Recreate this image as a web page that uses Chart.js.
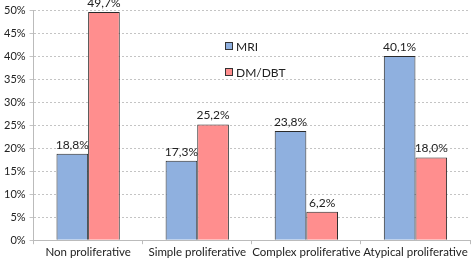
<!DOCTYPE html>
<html>
<head>
<meta charset="utf-8">
<script src="https://cdn.jsdelivr.net/npm/chart.js@4"></script>
<style>
  html, body { margin: 0; padding: 0; background: #fff; }
  #wrap { width: 473px; height: 260px; }
</style>
</head>
<body>
<div id="wrap"><canvas id="bars"></canvas></div>
<script>
Chart.defaults.font.family = 'Lato, "Open Sans", sans-serif';
Chart.defaults.font.size = 11;
Chart.defaults.color = '#222';

// data
const categories = ['Non proliferative', 'Simple proliferative', 'Complex proliferative', 'Atypical proliferative'];
const mriValues = [18.8, 17.3, 23.8, 40.1];
const dmValues = [49.7, 25.2, 6.2, 18.0];
const seriesNames = ['MRI', 'DM/DBT'];

const fmt = v => v.toFixed(1).replace('.', ',') + '%';

// value labels above bars
const valueLabels = {
    id: 'valueLabels',
    afterDatasetsDraw(chart) {
        const ctx = chart.ctx;
        ctx.save();
        ctx.font = '12px Lato, "Open Sans", sans-serif';
        ctx.fillStyle = '#222';
        ctx.textAlign = 'center';
        ctx.textBaseline = 'bottom';
        chart.data.datasets.forEach((ds, i) => {
            chart.getDatasetMeta(i).data.forEach((bar, j) => {
                ctx.fillText(fmt(ds.data[j]), bar.x, bar.y - 3);
            });
        });
        ctx.restore();
    }
};

// legend drawn inside the plot
const innerLegend = {
    id: 'innerLegend',
    afterDraw(chart) {
        const ctx = chart.ctx;
        ctx.save();
        ctx.font = '12px Lato, "Open Sans", sans-serif';
        ctx.textBaseline = 'middle';
        chart.data.datasets.forEach((ds, i) => {
            const x = 225, y = 46 + i * 26;
            ctx.fillStyle = ds.backgroundColor;
            ctx.fillRect(x, y - 4, 8, 8);
            ctx.strokeStyle = '#333';
            ctx.lineWidth = 1;
            ctx.strokeRect(x + 0.5, y - 3.5, 7, 7);
            ctx.fillStyle = '#222';
            ctx.fillText(ds.label, x + 11, y + 1);
        });
        ctx.restore();
    }
};

const data = {
    labels: categories,
    datasets: [
        {
            label: seriesNames[0],
            data: mriValues,
            backgroundColor: '#8fb0df',
            borderColor: '#2a2a2a',
            borderWidth: 1
        },
        {
            label: seriesNames[1],
            data: dmValues,
            backgroundColor: '#ff8e8e',
            borderColor: '#2a2a2a',
            borderWidth: 1
        }
    ]
};

const options = {
    responsive: true,
    maintainAspectRatio: false,
    animation: false,
    layout: { padding: { top: 10, right: 3, left: 0, bottom: 0 } },
    datasets: {
        bar: { barPercentage: 1.0, categoryPercentage: 0.58 }
    },
    plugins: {
        legend: { display: false },
        tooltip: { enabled: false }
    },
    scales: {
        x: {
            grid: {
                offset: true,
                drawOnChartArea: false,
                drawTicks: true,
                tickLength: 4,
                color: '#bbb'
            },
            border: { color: '#bbb' },
            ticks: { font: { size: 11.5 }, padding: 1, maxRotation: 0, minRotation: 0, autoSkip: false }
        },
        y: {
            min: 0,
            max: 50,
            ticks: {
                stepSize: 5,
                callback: v => v + '%',
                font: { size: 11 },
                padding: 4
            },
            grid: {
                color: '#c4c4c4',
                tickLength: 4,
                drawTicks: true
            },
            border: { display: true, color: '#bbb', dash: [2, 2] }
        }
    }
};

const config = {
    type: 'bar',
    data: data,
    options,
    plugins: [valueLabels, innerLegend]
};

const chart = new Chart(document.getElementById('bars'), config);
</script>
</body>
</html>
